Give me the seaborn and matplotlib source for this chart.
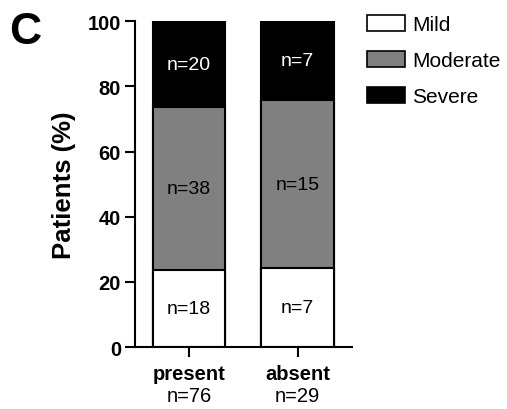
import matplotlib
matplotlib.use("Agg")
import matplotlib.pyplot as plt
import matplotlib.patches as mpatches
import seaborn as sns
import pandas as pd
import numpy as np

sns.set_style("ticks")
plt.rcParams['font.family'] = ['Liberation Sans', 'DejaVu Sans']
plt.rcParams['text.color'] = 'black'
plt.rcParams['axes.labelcolor'] = 'black'

groups = ["present", "absent"]
group_n = [76, 29]
severities = ["Mild", "Moderate", "Severe"]
mild = [18, 7]
moderate = [38, 15]
severe = [20, 7]
colors = {"Mild": "white", "Moderate": "#808080", "Severe": "black"}
text_colors = {"Mild": "black", "Moderate": "black", "Severe": "white"}

counts = {"Mild": np.array(mild), "Moderate": np.array(moderate), "Severe": np.array(severe)}
total = np.array(group_n, dtype=float)
pct = {k: v / total * 100 for k, v in counts.items()}
cum_mild = pct["Mild"]
cum_mod = pct["Mild"] + pct["Moderate"]
cum_sev = cum_mod + pct["Severe"]

fig = plt.figure(figsize=(5.07, 4.10), dpi=100)
ax = fig.add_axes([0.266, 0.151, 0.428, 0.795])

layers = [("Severe", cum_sev), ("Moderate", cum_mod), ("Mild", cum_mild)]
for name, vals in layers:
    df = pd.DataFrame({"group": groups, "value": vals})
    sns.barplot(data=df, x="group", y="value", order=groups, color=colors[name],
                saturation=1, edgecolor="black", linewidth=1.5, width=0.667, ax=ax,
                errorbar=None)

bottoms = {"Mild": np.zeros(2), "Moderate": cum_mild, "Severe": cum_mod}
for name in severities:
    for i in range(2):
        mid = bottoms[name][i] + pct[name][i] / 2
        ax.text(i, mid, f"n={counts[name][i]}", ha="center", va="center",
                fontsize=14, color=text_colors[name])

ax.set_xlim(-0.5, 1.5)
ax.set_ylim(0, 100)
ax.set_yticks([0, 20, 40, 60, 80, 100])
ax.set_xticks([0, 1])
ax.set_xticklabels(groups, fontweight="bold", fontsize=14.5)
for lbl in ax.get_yticklabels():
    lbl.set_fontweight("bold")
    lbl.set_fontsize(14.5)
for i, n in enumerate(group_n):
    ax.text(i, -0.15, f"n={n}", transform=ax.get_xaxis_transform(),
            ha="center", va="center", fontsize=14.5)
ax.set_xlabel("")
ax.set_ylabel("Patients (%)", fontsize=18.5, fontweight="bold", labelpad=8)
ax.tick_params(axis="both", width=1.5, length=7, color="black", labelcolor="black")
ax.tick_params(axis="x", pad=5)
ax.tick_params(axis="y", pad=3)
for s in ["left", "bottom"]:
    ax.spines[s].set_linewidth(1.5)
    ax.spines[s].set_color("black")
sns.despine(ax=ax)

handles = [mpatches.Patch(facecolor=colors[s], edgecolor="black", linewidth=1.2, label=s)
           for s in severities]
fig.legend(handles=handles, loc="upper left", bbox_to_anchor=(0.724, 0.962),
           frameon=False, fontsize=15, handlelength=1.8, handleheight=0.8,
           labelspacing=0.82, handletextpad=0.35, borderpad=0, borderaxespad=0)

fig.text(0.018, 0.97, "C", fontsize=32, fontweight="bold", va="top", ha="left")

fig.savefig("out.png", dpi=100)
